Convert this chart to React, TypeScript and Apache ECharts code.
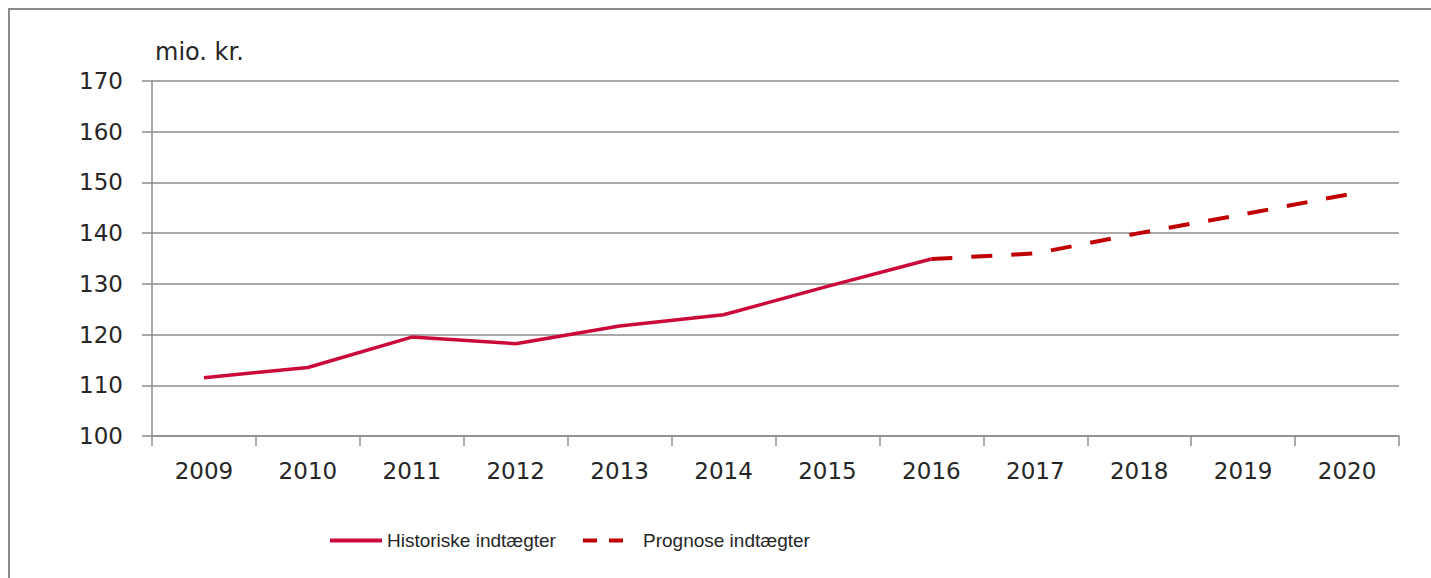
import React, { useEffect, useRef } from "react";
import * as echarts from "echarts";

const years = ["2009", "2010", "2011", "2012", "2013", "2014", "2015", "2016", "2017", "2018", "2019", "2020"];
const historiske = [111.5, 113.5, 119.5, 118.2, 121.7, 123.9, 129.5, 134.9, null, null, null, null];
const prognose = [null, null, null, null, null, null, null, 134.9, 136.0, 140.0, 143.7, 147.6];
const yTicks = { min: 100, max: 170, interval: 10 };
const unitLabel = "mio. kr.";
const names = ["Historiske indtægter", "Prognose indtægter"];

export default function App() {
  const ref = useRef<HTMLDivElement>(null);
  useEffect(() => {
    document.body.style.margin = "0";
    document.body.style.overflow = "hidden";
    if (!ref.current) return;
    const chart = echarts.init(ref.current, null, { renderer: "svg" });
    const axisFont = { fontFamily: "DejaVu Sans", fontSize: 23, color: "#262626" };
    const legendFont = { fontFamily: "Liberation Sans", fontSize: 19, color: "#262626" };
    chart.setOption({
      animation: false,
      backgroundColor: "#ffffff",
      graphic: [
        {
          type: "rect",
          shape: { x: 9, y: 9, width: 3000, height: 3000 },
          style: { fill: "none", stroke: "#8a8a8a", lineWidth: 2 },
          silent: true,
        },
      ],
      grid: { left: 152, top: 81, right: 32, bottom: 142, containLabel: false },
      legend: [
        {
          data: [{ name: names[0], icon: "path://M0,0h52v4h-52z" }],
          left: 330,
          top: 531,
          padding: 0,
          itemWidth: 52,
          itemHeight: 4,
          textStyle: { ...legendFont },
          selectedMode: false,
        },
        {
          data: [{ name: names[1], icon: "path://M0,0h14v4h-14z M26,0h14v4h-14z" }],
          left: 583,
          top: 531,
          padding: 0,
          itemWidth: 40,
          itemHeight: 4,
          textStyle: { ...legendFont, padding: [0, 0, 0, 15] },
          selectedMode: false,
        },
      ],
      xAxis: {
        type: "category",
        data: years,
        boundaryGap: true,
        axisLine: { lineStyle: { color: "#8c8c8c", width: 1.5 } },
        axisTick: { show: true, length: 10, alignWithLabel: false, lineStyle: { color: "#8c8c8c", width: 1.5 } },
        axisLabel: { ...axisFont, margin: 23 },
        splitLine: { show: false },
      },
      yAxis: {
        type: "value",
        min: yTicks.min,
        max: yTicks.max,
        interval: yTicks.interval,
        name: unitLabel,
        nameLocation: "end",
        nameGap: 17,
        nameTextStyle: { ...axisFont, fontSize: 24, align: "left", padding: [0, 0, 0, 3] },
        axisLine: { show: true, lineStyle: { color: "#8c8c8c", width: 1.5 } },
        axisTick: { show: true, length: 10, lineStyle: { color: "#8c8c8c", width: 1.5 } },
        axisLabel: { ...axisFont, margin: 29 },
        splitLine: { show: true, lineStyle: { color: "#8c8c8c", width: 1.5 } },
      },
      series: [
        {
          name: names[0],
          type: "line",
          data: historiske,
          showSymbol: false,
          symbol: "none",
          connectNulls: false,
          lineStyle: { color: "#cc0a3a", width: 3.5 },
          itemStyle: { color: "#cc0a3a" },
          z: 3,
        },
        {
          name: names[1],
          type: "line",
          data: prognose,
          showSymbol: false,
          symbol: "none",
          connectNulls: false,
          lineStyle: { color: "#c00000", width: 4, type: [21, 19] },
          itemStyle: { color: "#c00000" },
          z: 2,
        },
      ],
    });
    return () => chart.dispose();
  }, []);
  return <div ref={ref} style={{ width: 1431, height: 578 }} />;
}
